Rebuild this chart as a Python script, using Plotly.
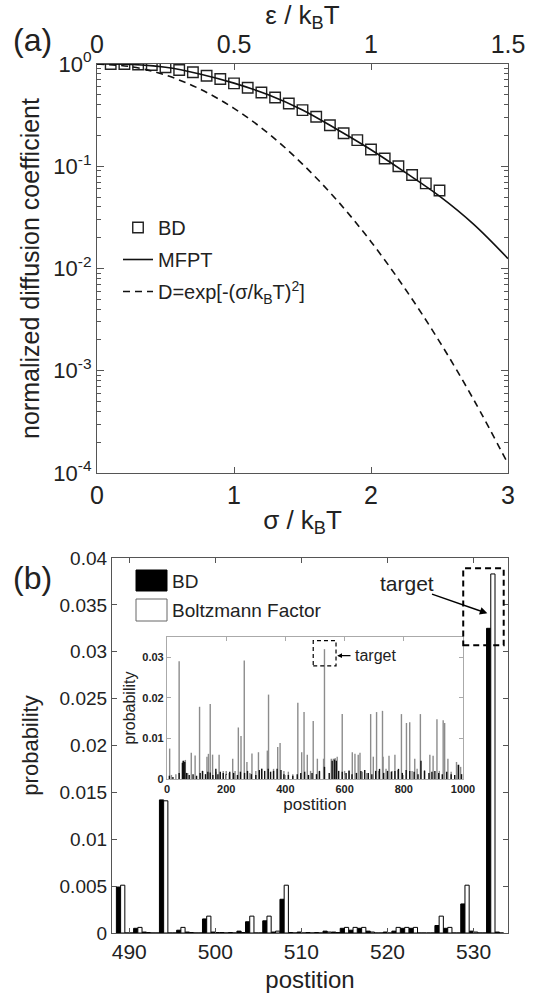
import plotly.graph_objects as go

W, H = 543, 994
def px(x): return x / W
def py(y): return 1 - y / H

# ---------------- panel (a) data ----------------
sigma_bd = [0.1, 0.2, 0.3, 0.4, 0.5, 0.6, 0.7, 0.8, 0.9, 1.0, 1.1, 1.2, 1.3,
            1.4, 1.5, 1.6, 1.7, 1.8, 1.9, 2.0, 2.1, 2.2, 2.3, 2.4, 2.5]
bd_vals = [1.0, 1.0, 0.99, 0.978, 0.93, 0.873, 0.83, 0.767, 0.713, 0.647, 0.586,
           0.527, 0.471, 0.411, 0.354, 0.305, 0.252, 0.21, 0.18, 0.146, 0.119,
           0.10, 0.082, 0.068, 0.058]
sigma_line = [0.0, 0.25, 0.5, 0.75, 1.0, 1.25, 1.5, 1.75, 2.0, 2.25, 2.5, 2.75, 3.0]
mfpt_vals = [1.0, 0.99, 0.93, 0.80, 0.65, 0.50, 0.355, 0.23, 0.145, 0.087, 0.051, 0.027, 0.0125]
gauss_vals = [1.0, 0.939, 0.779, 0.570, 0.368, 0.210, 0.105, 0.0468, 0.0183, 0.0063,
              0.00193, 0.00052, 0.000123]

# ---------------- panel (b) data ----------------
positions = list(range(489, 534))
bd_prob = [0.0049, 0, 0.0005, 0.0001, 0, 0.0142, 0, 0.0003, 0.0001, 0, 0.0015, 0.0001,
           0.00005, 0.00005, 0.0002, 0.0012, 0, 0.0013, 0.0001, 0.0036, 0.00005, 0.0001,
           0.00005, 0.00005, 0.0002, 0.0001, 0.0005, 0.0003, 0.0005, 0.0002, 0, 0.0001,
           0.0002, 0.0005, 0.0005, 0, 0, 0.0008, 0.0005, 0, 0.0031, 0.0002, 0, 0.0325, 0.0001]
bf_prob = [0.0051, 0, 0.0006, 0.00005, 0, 0.0141, 0, 0.0006, 0.00005, 0, 0.0018, 0.00005,
           0, 0, 0.00005, 0.0018, 0, 0.0018, 0.0002, 0.0051, 0, 0,
           0, 0, 0.0001, 0.00005, 0.0006, 0.0006, 0.0006, 0.0001, 0, 0,
           0.0006, 0.0006, 0.0006, 0, 0, 0.0018, 0.0006, 0, 0.0051, 0.0001, 0, 0.0383, 0]

# inset: full range spikes
inset_gray_pos = [9, 15, 30, 41, 53, 62, 70, 82, 95, 110, 120, 135, 140, 146, 154, 165, 176,
                  190, 200, 210, 222, 230, 241, 250, 261, 270, 280, 287, 300, 309, 320, 339,
                  343, 360, 374, 382, 395, 410, 425, 442, 455, 463, 474, 485, 494, 508, 515,
                  529, 532, 555, 562, 568, 575, 592, 600, 615, 626, 635, 646, 652, 660, 675,
                  688, 697, 708, 715, 728, 730, 740, 750, 760, 770, 780, 792, 809, 820, 828,
                  837, 845, 856, 870, 888, 899, 912, 920, 933, 938, 949, 960, 978, 983, 992]
inset_gray_val = [0.0075, 0.001, 0.0012, 0.029, 0.0045, 0.0047, 0.0015, 0.0065, 0.0058, 0.0178,
                  0.002, 0.0055, 0.0062, 0.0185, 0.006, 0.0018, 0.006, 0.002, 0.002, 0.0015,
                  0.005, 0.002, 0.0127, 0.0106, 0.0292, 0.0042, 0.0015, 0.0063, 0.002, 0.0066,
                  0.0025, 0.007, 0.0208, 0.0025, 0.0079, 0.0089, 0.002, 0.0018, 0.0012, 0.0188,
                  0.0066, 0.0165, 0.006, 0.002, 0.0143, 0.005, 0.0018, 0.005, 0.032, 0.005,
                  0.005, 0.0052, 0.0055, 0.016, 0.002, 0.0022, 0.0066, 0.0062, 0.006, 0.0065,
                  0.0018, 0.0015, 0.016, 0.0055, 0.0165, 0.002, 0.0168, 0.0055, 0.0025, 0.0057,
                  0.002, 0.006, 0.0022, 0.016, 0.0138, 0.014, 0.002, 0.005, 0.0025, 0.016,
                  0.0022, 0.006, 0.0057, 0.0147, 0.002, 0.0145, 0.0138, 0.005, 0.0018, 0.0042,
                  0.0035, 0.003]
inset_bd_pos = [8, 20, 41, 52, 56, 60, 66, 75, 88, 100, 112, 120, 130, 138, 146, 155, 165, 172,
                180, 190, 200, 212, 225, 238, 248, 262, 272, 285, 300, 312, 320, 330, 342, 350,
                360, 372, 385, 395, 410, 425, 440, 452, 465, 478, 490, 505, 515, 532, 548, 558,
                566, 572, 580, 592, 605, 615, 625, 640, 655, 668, 680, 692, 705, 718, 732, 745,
                758, 770, 782, 795, 808, 820, 835, 848, 858, 870, 885, 895, 905, 918, 930, 945,
                960, 972, 985, 995]
inset_bd_val = [0.0008, 0.0005, 0.0015, 0.004, 0.0045, 0.0042, 0.0015, 0.001, 0.0012, 0.0008,
                0.0015, 0.002, 0.0012, 0.0018, 0.0016, 0.001, 0.0025, 0.0012, 0.0018, 0.0015,
                0.0012, 0.0018, 0.0015, 0.001, 0.0018, 0.0015, 0.002, 0.0012, 0.001, 0.0022,
                0.0025, 0.002, 0.0025, 0.0018, 0.002, 0.0025, 0.0022, 0.0012, 0.001, 0.0008,
                0.0012, 0.0015, 0.0018, 0.001, 0.0015, 0.0012, 0.002, 0.003, 0.0015, 0.0045,
                0.0048, 0.0045, 0.002, 0.0018, 0.0015, 0.002, 0.0012, 0.0015, 0.002, 0.0022,
                0.0015, 0.0012, 0.002, 0.0025, 0.0015, 0.002, 0.0018, 0.002, 0.0025, 0.0015,
                0.0022, 0.002, 0.0018, 0.0012, 0.0045, 0.002, 0.0015, 0.0018, 0.002, 0.0015,
                0.0012, 0.0018, 0.0012, 0.001, 0.0035, 0.0012]

FONT = "Liberation Sans, Arial, sans-serif"
TXT = "#222"
AX = "#555"

fig = go.Figure()

# ---- panel (a) ----
fig.add_trace(go.Scatter(x=sigma_bd, y=bd_vals, mode="markers", name="BD",
                         marker=dict(symbol="square-open", size=10.5, color="#222",
                                     line=dict(width=1.4, color="#222")),
                         legendgroup="a1", xaxis="x", yaxis="y"))
fig.add_trace(go.Scatter(x=sigma_line, y=mfpt_vals, mode="lines", name="MFPT",
                         line=dict(color="#111", width=1.6, shape="spline"),
                         legendgroup="a2", xaxis="x", yaxis="y"))
fig.add_trace(go.Scatter(x=sigma_line, y=gauss_vals, mode="lines",
                         name="D=exp[-(σ/k<sub>B</sub>T)<sup>2</sup>]",
                         line=dict(color="#111", width=1.6, dash="7px,5px", shape="spline"),
                         legendgroup="a3", xaxis="x", yaxis="y"))
fig.add_trace(go.Scatter(x=[None], y=[None], xaxis="x2", yaxis="y", showlegend=False,
                         hoverinfo="skip"))

# ---- panel (b) ----
fig.add_trace(go.Bar(x=positions, y=bd_prob, name="BD", marker=dict(color="black",
                     line=dict(color="black", width=1)), showlegend=False,
                     xaxis="x3", yaxis="y3"))
fig.add_trace(go.Bar(x=positions, y=bf_prob, name="Boltzmann Factor",
                     marker=dict(color="white", line=dict(color="black", width=1)),
                     showlegend=False, xaxis="x3", yaxis="y3"))

# ---- inset ----
def spikes(pos, val):
    xs, ys = [], []
    for p, v in zip(pos, val):
        xs += [p, p, None]
        ys += [0, v, None]
    return xs, ys

gx, gy = spikes(inset_gray_pos, inset_gray_val)
bx, byy = spikes(inset_bd_pos, inset_bd_val)
fig.add_trace(go.Scatter(x=gx, y=gy, mode="lines", line=dict(color="#8c8c8c", width=1.4),
                         showlegend=False, xaxis="x4", yaxis="y4", hoverinfo="skip"))
fig.add_trace(go.Scatter(x=bx, y=byy, mode="lines", line=dict(color="#111", width=1.4),
                         showlegend=False, xaxis="x4", yaxis="y4", hoverinfo="skip"))

log_minor = []
for e in [-4, -3, -2, -1]:
    for m in range(2, 10):
        log_minor.append(m * 10 ** e)

common = dict(showline=True, linecolor=AX, linewidth=1.2, ticks="inside", mirror="ticks",
              tickcolor=AX, showgrid=False, zeroline=False, automargin=False)

fig.update_layout(
    width=W, height=H, margin=dict(l=0, r=0, t=0, b=0, autoexpand=False),
    paper_bgcolor="white", plot_bgcolor="white",
    font=dict(family=FONT, color=TXT),
    barmode="group", bargap=0.02, bargroupgap=0,
    xaxis=dict(domain=[px(97), px(508)], anchor="y", range=[0, 3],
               tickvals=[0, 1, 2, 3], ticklen=6, tickfont=dict(size=25),
               title=dict(text="σ / k<sub>B</sub>T", font=dict(size=26), standoff=2),
               **{**common, "mirror": False}),
    xaxis2=dict(overlaying="x", side="top", anchor="y", range=[0, 1.5],
                tickvals=[0, 0.5, 1, 1.5], ticktext=["0", "0.5", "1", "1.5"], ticklen=6,
                tickfont=dict(size=25),
                title=dict(text="ε / k<sub>B</sub>T", font=dict(size=26), standoff=4),
                **{**common, "mirror": False}),
    yaxis=dict(domain=[py(473), py(64)], anchor="x", type="log", range=[-4, 0],
               tickvals=[1e-4, 1e-3, 1e-2, 1e-1, 1],
               ticktext=["10<sup>-4</sup>", "10<sup>-3</sup>", "10<sup>-2</sup>",
                         "10<sup>-1</sup>", "10<sup>0</sup>"],
               ticklen=7, tickfont=dict(size=22),
               minor=dict(tickvals=log_minor, ticks="inside", ticklen=4, tickcolor=AX),
               title=dict(text="normalized diffusion coefficient", font=dict(size=25),
                          standoff=6),
               **common),
    xaxis3=dict(domain=[px(112), px(508)], anchor="y3", range=[488, 534],
                tickvals=[490, 500, 510, 520, 530], ticklen=5, tickfont=dict(size=21),
                title=dict(text="postition", font=dict(size=24), standoff=8), **common),
    yaxis3=dict(domain=[py(933), py(558)], anchor="x3", range=[0, 0.04],
                tickvals=[0, 0.005, 0.01, 0.015, 0.02, 0.025, 0.03, 0.035, 0.04],
                ticktext=["0", "0.005", "0.01", "0.015", "0.02", "0.025", "0.03", "0.035", "0.04"],
                ticklen=5, tickfont=dict(size=19),
                title=dict(text="probability", font=dict(size=22), standoff=14), **common),
    xaxis4=dict(domain=[px(167), px(463)], anchor="y4", range=[0, 1000],
                tickvals=[0, 200, 400, 600, 800, 1000], ticklen=4,
                tickfont=dict(size=11, weight="bold"),
                title=dict(text="postition", font=dict(size=17), standoff=2),
                **{**common, "linecolor": "#aaa", "tickcolor": "#aaa"}),
    yaxis4=dict(domain=[py(779), py(637)], anchor="x4", range=[0, 0.035],
                tickvals=[0, 0.01, 0.02, 0.03], ticktext=["0", "0.01", "0.02", "0.03"],
                ticklen=4, tickfont=dict(size=11, weight="bold"),
                title=dict(text="probability", font=dict(size=16), standoff=2),
                **{**common, "linecolor": "#aaa", "tickcolor": "#aaa"}),
    legend=dict(x=px(118), y=py(208), xanchor="left", yanchor="top",
                bgcolor="rgba(0,0,0,0)", font=dict(size=20, color=TXT),
                tracegroupgap=3, itemwidth=30),
)

# panel labels
fig.add_annotation(text="(a)", x=px(32), y=py(40), xref="paper", yref="paper",
                   xanchor="center", yanchor="middle",
                   showarrow=False, font=dict(size=32, color=TXT))
fig.add_annotation(text="(b)", x=px(32), y=py(578), xref="paper", yref="paper",
                   xanchor="center", yanchor="middle",
                   showarrow=False, font=dict(size=32, color=TXT))

# bottom legend (manual)
fig.add_shape(type="rect", xref="paper", yref="paper", x0=px(136), x1=px(167),
              y0=py(591), y1=py(570), fillcolor="black", line=dict(color="black", width=1))
fig.add_shape(type="rect", xref="paper", yref="paper", x0=px(136), x1=px(167),
              y0=py(621), y1=py(599), fillcolor="white", line=dict(color="#666", width=1))
fig.add_annotation(text="BD", x=px(170), y=py(581), xref="paper", yref="paper",
                   xanchor="left", yanchor="middle", showarrow=False,
                   font=dict(size=19, color=TXT))
fig.add_annotation(text="Boltzmann Factor", x=px(170), y=py(610), xref="paper", yref="paper",
                   xanchor="left", yanchor="middle", showarrow=False,
                   font=dict(size=19, color=TXT))

# target box + arrow main panel
fig.add_shape(type="rect", xref="x3", yref="y3", x0=528.8, x1=533.5, y0=0.0307, y1=0.0389,
              line=dict(color="black", width=2, dash="6px,4px"))
fig.add_annotation(x=531.6, y=0.0341, ax=525.0, ay=0.0362, xref="x3", yref="y3",
                   axref="x3", ayref="y3", text="", showarrow=True, arrowhead=2,
                   arrowsize=1, arrowwidth=1.5, arrowcolor="black")
fig.add_annotation(text="target", x=522.3, y=0.0373, xref="x3", yref="y3",
                   xanchor="center", yanchor="middle",
                   showarrow=False, font=dict(size=21, color=TXT))

# inset target box + arrow
fig.add_shape(type="rect", xref="x4", yref="y4", x0=494, x1=571, y0=0.0279, y1=0.0341,
              line=dict(color="black", width=1.2, dash="4px,3px"))
fig.add_annotation(x=575, y=0.0304, ax=625, ay=0.0304, xref="x4", yref="y4",
                   axref="x4", ayref="y4", text="", showarrow=True, arrowhead=2,
                   arrowsize=0.8, arrowwidth=1.2, arrowcolor="black")
fig.add_annotation(text="target", x=630, y=0.0304, xref="x4", yref="y4", xanchor="left",
                   yanchor="middle", showarrow=False, font=dict(size=16, color=TXT))

fig.write_html("out.html")
